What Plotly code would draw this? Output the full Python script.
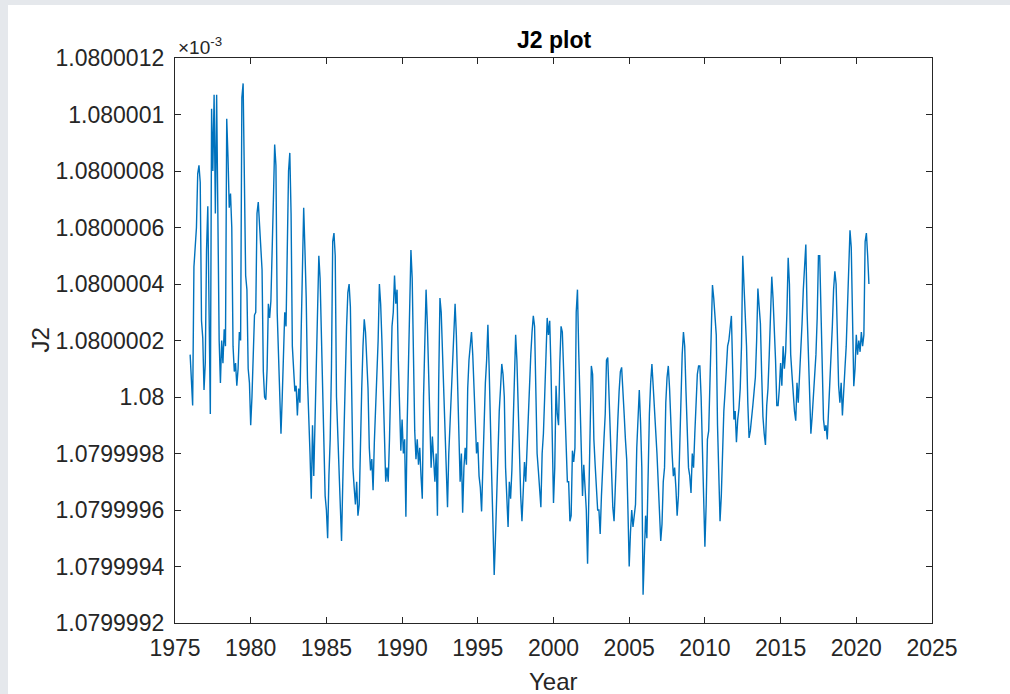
import plotly.graph_objects as go

# ---------------- data (monthly J2 values, offsets from 1.08e-3 in units of 1e-10) ----------------
start_year = 1976
j2_base = 1.08  # in units of 1e-3

j2_1976_1985 = [
    1.5, 0.7, -0.3, 4.6, 5.4, 6.0, 7.9, 8.2, 7.6, 2.7, 2.1, 0.25,
    1.2, 5.2, 6.75, 1.6, -0.6, 10.2, 8.0, 10.7, 6.5, 10.7, 5.6, 2.0,
    0.5, 2.0, 1.2, 2.4, 1.8, 9.85, 8.5, 6.7, 7.2, 6.0, 1.8, 0.9,
    1.2, 0.4, 1.0, 2.3, 2.0, 10.6, 11.1, 7.1, 4.3, 3.8, 1.0, 0.5,
    -1.0, 0.0, 1.5, 2.9, 3.0, 6.5, 6.9, 6.0, 5.2, 4.5, 0.9, 0.0,
    -0.1, 1.0, 3.3, 2.8, 3.4, 5.8, 7.0, 8.94, 8.2, 3.0, 1.5, -0.6,
    -1.3, 0.0, 1.7, 3.0, 2.5, 5.2, 8.0, 8.64, 6.5, 1.8, 1.0, 0.2,
    0.4, -0.65, 0.3, -0.2, 2.3, 4.5, 6.7, 5.2, 3.5, 0.6, -0.5, -2.0,
    -3.6, -1.0, -2.8, -0.8, 2.0, 4.0, 5.0, 4.2, 2.3, -0.5, -2.0, -3.5,
    -4.0, -5.0, -2.8, -1.5, 1.0, 5.5, 5.8, 5.0, 0.0, -1.5, -3.0, -4.2,
]
j2_1986_1995 = [
    -5.1, -3.0, -1.0, 0.5, 2.5, 3.7, 4.0, 3.2, 1.0, -2.5, -3.2, -3.8,
    -3.0, -4.2, -3.8, -1.0, 0.3, 1.8, 2.75, 2.3, 1.5, 0.3, -1.8, -2.6,
    -2.2, -3.3, -1.6, -0.5, 1.0, 2.0, 4.0, 3.3, 2.0, 0.5, -1.5, -3.0,
    -2.5, -3.0, -1.5, 0.2, 2.5, 3.0, 4.3, 3.3, 3.8, 1.3, -0.5, -1.9,
    -0.8, -2.0, -1.5, -4.24, -1.0, 1.5, 3.5, 5.2, 4.2, 1.0, -1.2, -2.2,
    -1.5, -2.4, -1.8, -2.8, -3.6, 0.0, 1.9, 3.8, 2.6, 0.5, -1.5, -2.5,
    -1.4, -2.3, -3.0, -2.0, -4.2, 0.5, 3.5, 3.0, 1.5, 0.0, -1.6, -2.3,
    -3.9, -2.0, -1.0, 0.3, 1.6, 2.6, 3.3, 2.2, 0.5, -1.5, -3.0, -2.0,
    -4.1, -2.5, -1.8, -2.4, 0.3, 1.3, 1.8, 2.3, 1.5, 0.1, -1.0, -2.0,
    -1.6, -2.8, -3.2, -4.05, -2.5, -0.5, 0.5, 1.3, 2.56, 1.0, -1.5, -2.8,
]
j2_1996_2005 = [
    -4.5, -6.3, -5.0, -3.5, -1.5, -0.5, 0.3, 1.17, 0.8, 0.0, -2.5, -3.8,
    -4.6, -3.0, -3.6, -2.6, -1.2, 0.5, 2.2, 1.3, -0.6, -2.0, -3.5, -4.4,
    -3.2, -2.3, -3.0, -1.8, -0.5, 0.8, 1.5, 2.3, 2.87, 2.5, 0.0, -2.0,
    -2.6, -3.3, -3.9, -2.0, -1.3, 0.0, 1.7, 2.8, 2.2, 2.7, 1.0, -1.5,
    -3.75, -2.5, 0.4, -0.6, -1.0, 1.2, 2.5, 2.3, 1.0, -0.5, -1.4, -3.0,
    -3.0, -4.4, -4.2, -1.9, -2.3, -1.8, 3.0, 3.8, 1.6, -0.2, -1.8, -3.5,
    -2.4, -3.2, -4.0, -5.9, -3.0, -0.5, 1.1, 0.8, -1.5, -2.4, -3.2, -4.0,
    -4.0, -4.85, -3.5, -2.7, -1.5, -0.6, 1.3, 1.4, 0.2, -1.5, -2.8, -3.9,
    -4.4, -3.0, -1.8, -0.8, 0.2, 0.9, 1.05, 0.4, -0.6, -1.5, -2.2, -4.0,
    -6.0, -4.8, -4.0, -4.6, -4.2, -3.8, -1.8, -0.5, 0.25, -0.9, -2.5, -7.0,
]
j2_2006_2015 = [
    -5.7, -4.2, -5.0, -2.5, -0.6, 0.5, 1.17, 0.4, -0.6, -1.2, -2.0, -3.0,
    -3.8, -5.1, -4.5, -3.0, -2.5, -0.2, 0.7, 1.1, 0.3, -1.0, -2.0, -2.8,
    -2.5, -3.2, -4.2, -3.5, -1.5, 0.5, 1.5, 2.3, 1.8, 0.2, -1.3, -2.5,
    -2.8, -3.4, -2.0, -2.5, -1.3, 0.0, 0.8, 1.1, 1.1, 0.0, -1.5, -3.0,
    -5.3, -3.8, -1.5, -1.2, 0.5, 2.5, 3.96, 3.5, 3.0, 2.2, -1.0, -2.5,
    -4.4, -3.5, -1.5, -0.5, 0.2, 1.2, 1.8, 2.0, 2.6, 2.87, 1.0, -0.8,
    -0.5, -1.6, -0.8, -0.4, 0.3, 1.8, 5.0, 3.9, 3.2, 1.8, -0.2, -1.45,
    -1.2, -0.6, -0.3, 0.2, 0.7, 2.0, 3.84, 3.2, 2.6, 0.8, -0.7, -1.3,
    -1.7, -0.3, 0.3, 1.5, 3.0, 4.26, 3.5, 2.5, 1.3, -0.3, -0.3, 0.3,
    1.2, 0.4, 1.8, 1.0, 1.6, 3.0, 4.93, 4.0, 1.5, 0.8, 0.0, -0.5,
]
j2_2016_2020 = [
    -0.84, 0.5, -0.2, 0.6, 1.5, 2.6, 3.8, 4.6, 5.4, 3.0, 1.5, -0.2,
    -1.3, -0.7, 0.0, 0.5, 1.5, 2.8, 5.0, 5.0, 3.0, 1.0, -0.8, -1.2,
    -1.0, -1.5, -0.6, 0.6, 1.5, 2.5, 3.8, 4.45, 4.0, 2.0, 0.4, -0.2,
    0.5, -0.65, 0.5, 1.0, 1.8, 3.0, 4.3, 5.9, 5.3, 2.0, 0.38, 1.0,
    2.2, 1.5, 2.0, 1.6, 2.3, 1.8, 2.2, 5.5, 5.8, 5.0, 4.0,
]

x_ticks = [1975, 1980, 1985, 1990, 1995, 2000, 2005, 2010, 2015, 2020, 2025]
y_tick_labels = ["1.0799992", "1.0799994", "1.0799996", "1.0799998", "1.08",
                 "1.0800002", "1.0800004", "1.0800006", "1.0800008", "1.080001",
                 "1.0800012"]

# ---------------- build ----------------
offsets = j2_1976_1985 + j2_1986_1995 + j2_1996_2005 + j2_2006_2015 + j2_2016_2020
years = [start_year + i / 12.0 for i in range(len(offsets))]
j2 = [j2_base + v * 1e-7 for v in offsets]
y_tick_vals = [float(s) for s in y_tick_labels]

W, H = 1010, 694
L, R, T, B = 175, 932, 58, 623  # plot-area pixel box

def px_x(p):
    return (p - L) / (R - L)

def px_y(p):
    return (B - p) / (B - T)

axis_col = "#262626"
font_fam = "Liberation Sans, Arial, sans-serif"
tick_size = 23

fig = go.Figure()
fig.add_trace(go.Scatter(x=years, y=j2, mode="lines",
                         line=dict(color="#0072BD", width=1.4),
                         hoverinfo="skip", showlegend=False))

fig.update_layout(
    width=W, height=H,
    margin=dict(l=L, r=W - R, t=T, b=H - B, pad=0),
    paper_bgcolor="#e5e8ec",
    plot_bgcolor="white",
    showlegend=False,
    font=dict(family=font_fam, color=axis_col, size=tick_size),
    shapes=[dict(type="rect", xref="paper", yref="paper",
                 x0=px_x(8), x1=px_x(1030), y0=px_y(720), y1=px_y(5),
                 fillcolor="white", line=dict(width=0), layer="below")],
    annotations=[
        dict(text="<b>J2 plot</b>", xref="paper", yref="paper", x=0.5, y=px_y(40),
             xanchor="center", yanchor="middle", showarrow=False,
             font=dict(size=23, color="black", family=font_fam)),
        dict(text="×10<sup>-3</sup>", xref="paper", yref="paper", x=px_x(176), y=px_y(46),
             xanchor="left", yanchor="middle", showarrow=False,
             font=dict(size=19, color=axis_col, family=font_fam)),
        dict(text="J2", xref="paper", yref="paper", x=px_x(40), y=0.5, textangle=-90,
             xanchor="center", yanchor="middle", showarrow=False,
             font=dict(size=24, color=axis_col, family=font_fam)),
        dict(text="Year", xref="paper", yref="paper", x=0.5, y=px_y(681),
             xanchor="center", yanchor="middle", showarrow=False,
             font=dict(size=24, color=axis_col, family=font_fam)),
    ],
)

fig.update_xaxes(range=[1975, 2025], tickmode="array", tickvals=x_ticks,
                 ticktext=[str(v) for v in x_ticks],
                 ticks="inside", ticklen=6, tickwidth=1.3, tickcolor=axis_col,
                 showline=True, linecolor=axis_col, linewidth=1.3, mirror="ticks",
                 showgrid=False, zeroline=False, ticklabelstandoff=4,
                 tickfont=dict(size=tick_size, color=axis_col, family=font_fam))
fig.update_yaxes(range=[y_tick_vals[0], y_tick_vals[-1]], tickmode="array",
                 tickvals=y_tick_vals, ticktext=y_tick_labels,
                 ticks="inside", ticklen=6, tickwidth=1.3, tickcolor=axis_col,
                 showline=True, linecolor=axis_col, linewidth=1.3, mirror="ticks",
                 showgrid=False, zeroline=False, ticklabelstandoff=5,
                 tickfont=dict(size=tick_size, color=axis_col, family=font_fam))

fig.write_html("out.html",
               config={"displayModeBar": False},
               post_script="document.body.style.margin='0px';"
                           "document.body.style.background='white';")
